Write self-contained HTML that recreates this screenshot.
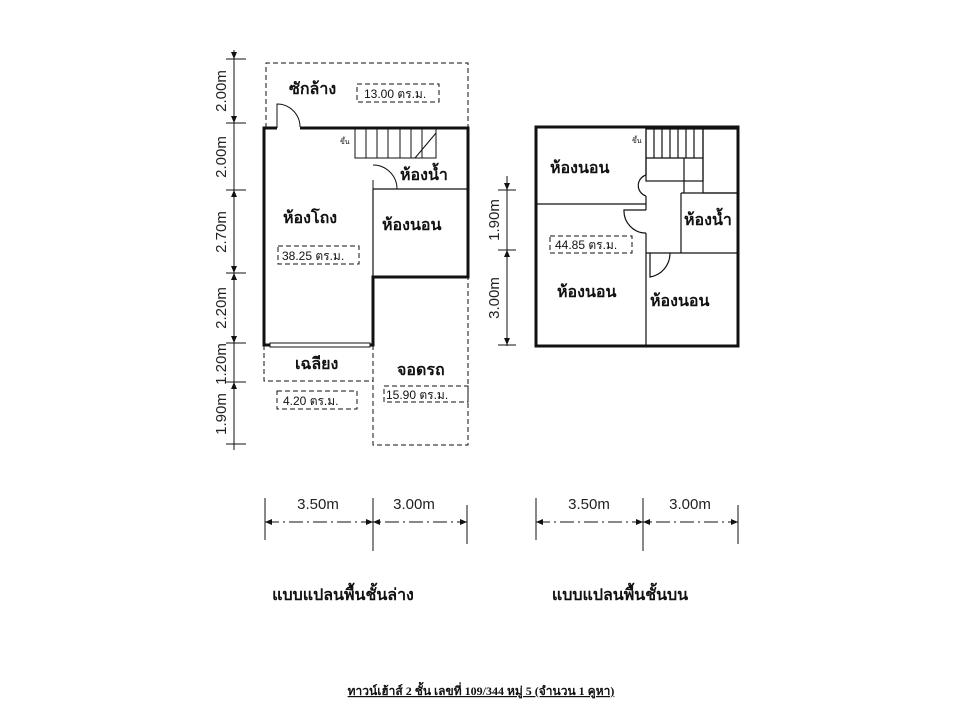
<!DOCTYPE html>
<html><head><meta charset="utf-8"><style>
html,body{margin:0;padding:0;background:#fff;}
svg{display:block;font-family:"Liberation Sans","DejaVu Sans",sans-serif;}
.t{font-size:16px;font-weight:bold;fill:#111;}
.s{font-size:12px;fill:#111;}
.d{font-size:15px;fill:#222;}
</style></head><body>
<svg width="960" height="720" viewBox="0 0 960 720" xmlns="http://www.w3.org/2000/svg">
<g fill="none" stroke="#111">
<g stroke-dasharray="5,3" stroke-width="1">
<polyline points="266,128 266,63 468,63 468,128"/>
<polyline points="264,345 264,381 373,381"/>
<polyline points="373,345 373,445 468,445 468,277"/>
<rect x="357" y="84" width="82" height="18"/>
<rect x="278" y="246" width="81" height="18"/>
<rect x="277" y="391" width="80" height="18"/>
<rect x="384" y="386" width="84" height="16"/>
<rect x="550" y="236" width="82" height="17"/>
</g>
<polyline stroke-width="3" points="300,128 468,128 468,277 373,277 373,345 264,345 264,128 277,128"/>
<path d="M277,128 L277,104 A23,23 0 0 1 300,127" stroke-width="1"/>
<line x1="373" y1="189" x2="468" y2="189" stroke-width="1.2"/>
<line x1="373" y1="189" x2="373" y2="277" stroke-width="1.2"/>
<path d="M373,189 L373,180 M397,189 A24,24 0 0 0 373,165" stroke-width="1"/>
<rect x="355" y="128" width="81" height="30" stroke-width="1"/>
<g stroke-width="1"><line x1="366" y1="128" x2="366" y2="158"/><line x1="377" y1="128" x2="377" y2="158"/><line x1="388" y1="128" x2="388" y2="158"/><line x1="400" y1="128" x2="400" y2="158"/><line x1="411" y1="128" x2="411" y2="158"/><line x1="422" y1="128" x2="422" y2="158"/><line x1="415" y1="158" x2="436" y2="133"/></g>
<rect x="270" y="343" width="100" height="4" fill="#fff" stroke-width="1"/>
<rect x="536" y="127" width="202" height="219" stroke-width="3"/>
<g stroke-width="1.2">
<line x1="536" y1="204" x2="646" y2="204"/>
<line x1="646" y1="127" x2="646" y2="175"/>
<line x1="646" y1="196" x2="646" y2="210"/>
<line x1="646" y1="233" x2="646" y2="346"/>
<line x1="646" y1="253" x2="738" y2="253"/>
<line x1="681" y1="193" x2="681" y2="253"/>
<line x1="681" y1="193" x2="738" y2="193"/>
<rect x="646" y="129" width="57" height="52"/>
<rect x="703" y="129" width="35" height="64"/>
<line x1="646" y1="158" x2="703" y2="158"/>
<line x1="654" y1="129" x2="654" y2="158"/><line x1="662" y1="129" x2="662" y2="158"/><line x1="670" y1="129" x2="670" y2="158"/><line x1="678" y1="129" x2="678" y2="158"/><line x1="686" y1="129" x2="686" y2="158"/><line x1="694" y1="129" x2="694" y2="158"/>
<line x1="684" y1="158" x2="684" y2="193"/>
<path d="M646,175 A11,11 0 0 0 646,196"/>
<path d="M646,210 L624,210 A22,22 0 0 0 646,233"/>
<path d="M650,253 L650,277 A24,24 0 0 0 670,253"/>
</g>
<g stroke-width="1">
<line x1="234" y1="50" x2="234" y2="450"/>
<line x1="226" y1="59" x2="246" y2="59"/><line x1="226" y1="123" x2="246" y2="123"/>
<line x1="226" y1="190" x2="246" y2="190"/><line x1="226" y1="273" x2="246" y2="273"/>
<line x1="226" y1="343" x2="246" y2="343"/><line x1="226" y1="382" x2="246" y2="382"/>
<line x1="226" y1="444" x2="246" y2="444"/>
<line x1="507" y1="176" x2="507" y2="346"/>
<line x1="498" y1="190" x2="516" y2="190"/><line x1="498" y1="250" x2="516" y2="250"/><line x1="498" y1="345" x2="516" y2="345"/>
<line x1="265" y1="522" x2="467" y2="522" stroke-dasharray="14,4,2,4"/>
<line x1="265" y1="498" x2="265" y2="540"/><line x1="373" y1="498" x2="373" y2="551"/><line x1="467" y1="505" x2="467" y2="544"/>
<line x1="536" y1="522" x2="738" y2="522" stroke-dasharray="14,4,2,4"/>
<line x1="536" y1="498" x2="536" y2="540"/><line x1="643" y1="498" x2="643" y2="551"/><line x1="738" y1="505" x2="738" y2="544"/>
</g>
</g>
<g fill="#111">
<path d="M265,522 l7,-3 v6z M373,522 l-7,-3 v6z M373,522 l7,-3 v6z M467,522 l-7,-3 v6z"/>
<path d="M536,522 l7,-3 v6z M643,522 l-7,-3 v6z M643,522 l7,-3 v6z M738,522 l-7,-3 v6z"/>
<path d="M234,123 l-3,-7 h6z M234,190 l-3,7 h6z M234,273 l-3,-7 h6z M234,273 l-3,7 h6z M234,343 l-3,-7 h6z M234,382 l-3,7 h6z M234,59 l-3,-7 h6z"/>
<path d="M507,190 l-3,-7 h6z M507,250 l-3,7 h6z M507,345 l-3,-7 h6z"/>
</g>
<text class="t" x="289" y="94">ซักล้าง</text>
<text class="s" x="364" y="98">13.00 ตร.ม.</text>
<text class="t" x="400" y="180">ห้องน้ำ</text>
<text class="t" x="283" y="223">ห้องโถง</text>
<text class="s" x="282" y="260">38.25 ตร.ม.</text>
<text class="t" x="382" y="230">ห้องนอน</text>
<text class="t" x="295" y="369">เฉลียง</text>
<text class="s" x="283" y="405">4.20 ตร.ม.</text>
<text class="t" x="397" y="375">จอดรถ</text>
<text class="s" x="386" y="399">15.90 ตร.ม.</text>
<text class="t" x="550" y="173">ห้องนอน</text>
<text class="t" x="684" y="225">ห้องน้ำ</text>
<text class="s" x="555" y="249">44.85 ตร.ม.</text>
<text class="t" x="557" y="297">ห้องนอน</text>
<text class="t" x="650" y="306">ห้องนอน</text>
<text class="s" x="340" y="144" style="font-size:7px">ขึ้น</text>
<text class="s" x="632" y="143" style="font-size:7px">ขึ้น</text>
<g class="d">
<text transform="translate(226,91) rotate(-90)" text-anchor="middle">2.00m</text>
<text transform="translate(226,157) rotate(-90)" text-anchor="middle">2.00m</text>
<text transform="translate(226,232) rotate(-90)" text-anchor="middle">2.70m</text>
<text transform="translate(226,308) rotate(-90)" text-anchor="middle">2.20m</text>
<text transform="translate(226,364) rotate(-90)" text-anchor="middle">1.20m</text>
<text transform="translate(226,414) rotate(-90)" text-anchor="middle">1.90m</text>
<text transform="translate(499,220) rotate(-90)" text-anchor="middle">1.90m</text>
<text transform="translate(499,298) rotate(-90)" text-anchor="middle">3.00m</text>
<text x="318" y="509" text-anchor="middle">3.50m</text>
<text x="414" y="509" text-anchor="middle">3.00m</text>
<text x="589" y="509" text-anchor="middle">3.50m</text>
<text x="690" y="509" text-anchor="middle">3.00m</text>
</g>
<text x="343" y="600" text-anchor="middle" style="font-size:16px;font-weight:bold" fill="#111">แบบแปลนพื้นชั้นล่าง</text>
<text x="620" y="600" text-anchor="middle" style="font-size:16px;font-weight:bold" fill="#111">แบบแปลนพื้นชั้นบน</text>
<text x="481" y="695" text-anchor="middle" style="font-size:12px;font-weight:bold;font-family:'Liberation Serif','DejaVu Serif',serif;text-decoration:underline" fill="#111">ทาวน์เฮ้าส์ 2 ชั้น  เลขที่ 109/344 หมู่ 5  (จำนวน 1 คูหา)</text>
</svg>
</body></html>
